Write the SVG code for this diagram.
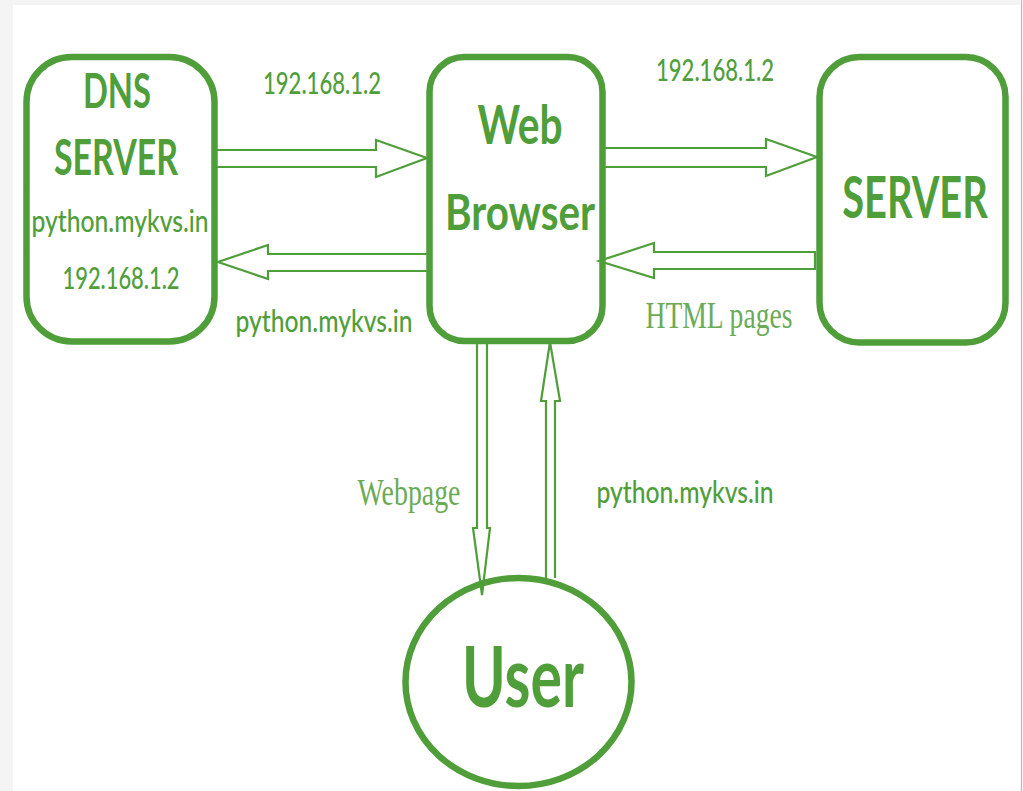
<svg xmlns="http://www.w3.org/2000/svg" width="1023" height="791" viewBox="0 0 1023 791">
<style>
.box{fill:#fff;stroke:#4f9e3a;stroke-width:6.500}
.arr{fill:none;stroke:#4f9e3a;stroke-width:2.200}
text{fill:#4f9e3a;text-anchor:middle;font-family:Lato,"Liberation Sans",sans-serif}
.b{font-weight:700}
.s{font-size:30px;font-weight:500}
.t{font-family:"Liberation Serif",serif;font-size:37px;fill:#6bab57}
</style>
<rect width="1023" height="791" fill="#f4f4f4"/>
<rect x="13" y="5" width="1007" height="786" fill="#fff"/>
<rect x="1021" y="0" width="1" height="791" fill="#bbb"/>
<g id="dns-server">
<rect class="box" x="26.500" y="57" width="188" height="284.500" rx="45" ry="45"/>
<text class="b" x="117" y="108" font-size="48" textLength="68" lengthAdjust="spacingAndGlyphs">DNS</text>
<text class="b" x="116" y="175" font-size="49" textLength="124" lengthAdjust="spacingAndGlyphs">SERVER</text>
<text class="s" x="120" y="232" textLength="177" lengthAdjust="spacingAndGlyphs">python.mykvs.in</text>
<text class="s" x="121" y="289" textLength="117" lengthAdjust="spacingAndGlyphs">192.168.1.2</text>
</g>
<g id="web-browser">
<rect class="box" x="429.500" y="57" width="173" height="284" rx="35" ry="35"/>
<text class="b" x="520" y="144" font-size="54" textLength="85" lengthAdjust="spacingAndGlyphs">Web</text>
<text class="b" x="520" y="230" font-size="50" textLength="150" lengthAdjust="spacingAndGlyphs">Browser</text>
</g>
<g id="server">
<rect class="box" x="819.500" y="57" width="186" height="285.500" rx="40" ry="40"/>
<text class="b" transform="translate(915 218) scale(.8 1)" font-size="57" textLength="182" lengthAdjust="spacingAndGlyphs">SERVER</text>
</g>
<g id="user">
<ellipse class="box" cx="518.500" cy="682" rx="113" ry="104"/>
<text class="b" x="523" y="707" font-size="84" textLength="122" lengthAdjust="spacingAndGlyphs">User</text>
</g>
<g id="connectors">
<path class="arr" d="M217 150H376V140L427 158L376 177V167H217"/>
<path class="arr" d="M429 254H268V245L218 262L268 279V271H429"/>
<path class="arr" d="M605 148H766V139L817 157L766 176V167H605"/>
<path class="arr" d="M815 252H654V243L599 261L654 278V269H815Z"/>
<path class="arr" d="M477 342V528H473L482 595L490 528H487V342"/>
<path class="arr" d="M546 578V401H541L550 342L560 401H555V578"/>
</g>
<g id="labels">
<text class="s" x="322" y="94" textLength="118" lengthAdjust="spacingAndGlyphs">192.168.1.2</text>
<text class="s" x="715" y="81" textLength="118" lengthAdjust="spacingAndGlyphs">192.168.1.2</text>
<text class="s" x="324" y="332" textLength="177" lengthAdjust="spacingAndGlyphs">python.mykvs.in</text>
<text class="s" x="685" y="503" textLength="177" lengthAdjust="spacingAndGlyphs">python.mykvs.in</text>
<text class="t" x="719" y="328" textLength="147" lengthAdjust="spacingAndGlyphs">HTML pages</text>
<text class="t" x="409" y="505" textLength="103" lengthAdjust="spacingAndGlyphs">Webpage</text>
</g>
</svg>
